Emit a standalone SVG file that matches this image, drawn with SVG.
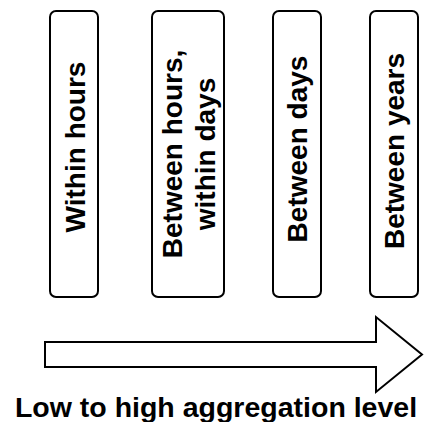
<svg xmlns="http://www.w3.org/2000/svg" width="425" height="422" viewBox="0 0 425 422">
<style>
.box{fill:#fff;stroke:#000;stroke-width:2}
.t{font-family:"Liberation Sans",Arial,sans-serif;font-weight:bold;font-size:28px;fill:#000;text-anchor:middle}
.lbl{font-size:28.5px}
</style>
<rect width="425" height="422" fill="#fff"/>
<g id="within-hours">
<rect class="box" x="50" y="11" width="48" height="286" rx="6"/>
<text class="t" transform="translate(85,147) rotate(-90)">Within hours</text>
</g>
<g id="between-hours-within-days">
<rect class="box" x="152" y="11" width="72" height="286" rx="6"/>
<text class="t" transform="translate(182,154) rotate(-90)">Between hours,</text>
<text class="t" transform="translate(215,154) rotate(-90)">within days</text>
</g>
<g id="between-days">
<rect class="box" x="273" y="11" width="48" height="286" rx="6"/>
<text class="t" transform="translate(307,149) rotate(-90)">Between days</text>
</g>
<g id="between-years">
<rect class="box" x="370" y="11" width="48" height="286" rx="6"/>
<text class="t" transform="translate(404,151) rotate(-90)">Between years</text>
</g>
<g id="connectors">
<polygon points="45,342 376,342 376,317 422,354.5 376,392 376,367 45,367" fill="#fff" stroke="#000" stroke-width="2"/>
</g>
<g id="label">
<text class="t lbl" x="216" y="417">Low to high aggregation level</text>
</g>
</svg>
